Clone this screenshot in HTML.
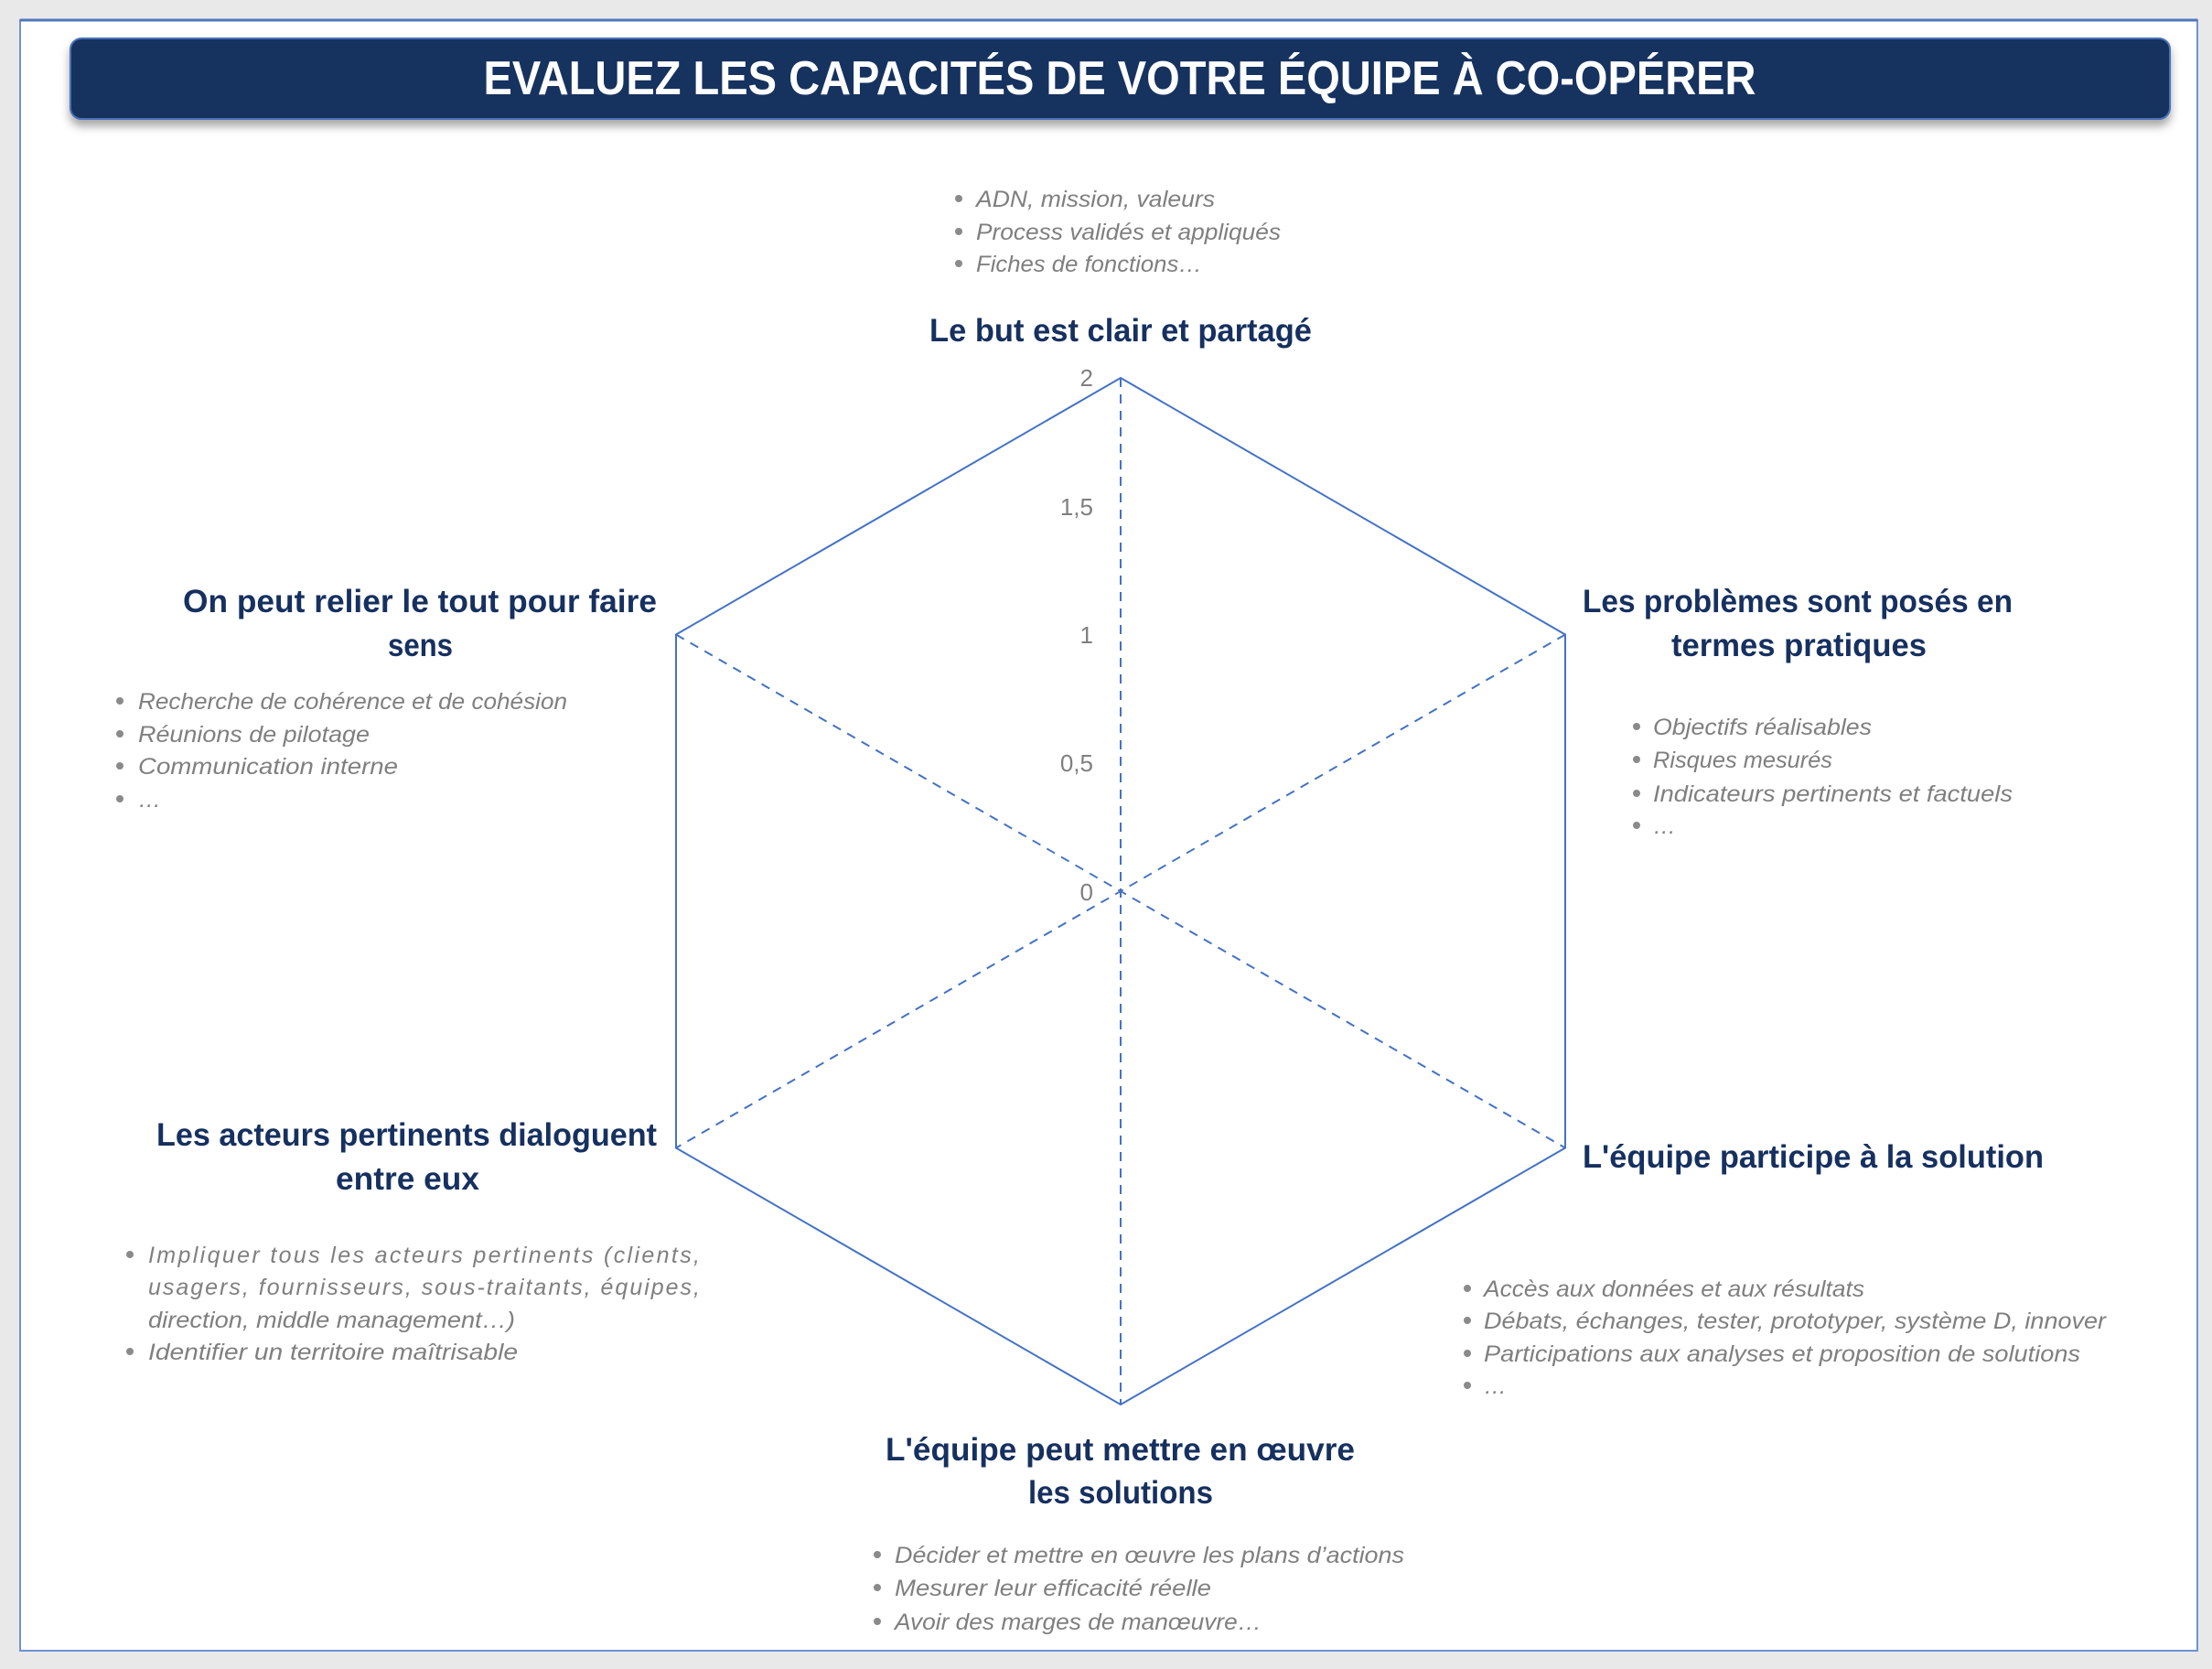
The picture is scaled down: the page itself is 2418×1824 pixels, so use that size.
<!DOCTYPE html>
<html><head><meta charset="utf-8"><style>
html,body{margin:0;padding:0;background:#e9e9e9;}
svg{display:block}
</style></head><body>
<svg width="2418" height="1824" viewBox="0 0 2418 1824" xmlns="http://www.w3.org/2000/svg">
<defs>
<filter id="sh" x="-5%" y="-30%" width="110%" height="170%"><feDropShadow dx="0" dy="7" stdDeviation="5" flood-color="#000" flood-opacity="0.35"/></filter>
</defs>
<rect x="0" y="0" width="2418" height="1824" fill="#e9e9e9"/>
<rect x="22" y="22" width="2380" height="1782" fill="#fff" stroke="#6f93cf" stroke-width="2"/>
<line x1="22" y1="22" x2="2402" y2="22" stroke="#4f77bd" stroke-width="3"/>
<rect x="77" y="42" width="2295" height="88" rx="12" fill="#16305f" stroke="#4a72b8" stroke-width="2" filter="url(#sh)"/>
<text x="1224" y="103" text-anchor="middle" font-family="Liberation Sans, sans-serif" font-weight="bold" font-size="52" fill="#fff" textLength="1391" lengthAdjust="spacingAndGlyphs">EVALUEZ LES CAPACITÉS DE VOTRE ÉQUIPE À CO-OPÉRER</text>

<g stroke="#4472c4" stroke-width="2" fill="none">
<polygon points="1225,413 1711,693.5 1711,1254.5 1225,1535 739,1254.5 739,693.5"/>
<g stroke-dasharray="10,8">
<line x1="1225" y1="413" x2="1225" y2="1535"/>
<line x1="1711" y1="693.5" x2="739" y2="1254.5"/>
<line x1="739" y1="693.5" x2="1711" y2="1254.5"/>
</g>
</g>

<g font-family="Liberation Sans, sans-serif" font-size="26" fill="#7f7f7f" text-anchor="end">
<text x="1195" y="422">2</text>
<text x="1195" y="563">1,5</text>
<text x="1195" y="703">1</text>
<text x="1195" y="843">0,5</text>
<text x="1195" y="984">0</text>
</g>

<g font-family="Liberation Sans, sans-serif" font-weight="bold" font-size="35" fill="#16305f" lengthAdjust="spacingAndGlyphs">
<text x="1016" y="373" textLength="418" lengthAdjust="spacingAndGlyphs">Le but est clair et partagé</text>
<text x="200" y="669" textLength="518" lengthAdjust="spacingAndGlyphs">On peut relier le tout pour faire</text>
<text x="424" y="717" textLength="71" lengthAdjust="spacingAndGlyphs">sens</text>
<text x="1730" y="669" textLength="470" lengthAdjust="spacingAndGlyphs">Les problèmes sont posés en</text>
<text x="1827" y="717" textLength="279" lengthAdjust="spacingAndGlyphs">termes pratiques</text>
<text x="1730" y="1276" textLength="504" lengthAdjust="spacingAndGlyphs">L'équipe participe à la solution</text>
<text x="171" y="1252" textLength="547" lengthAdjust="spacingAndGlyphs">Les acteurs pertinents dialoguent</text>
<text x="367" y="1300" textLength="157" lengthAdjust="spacingAndGlyphs">entre eux</text>
<text x="968" y="1596" textLength="513" lengthAdjust="spacingAndGlyphs">L'équipe peut mettre en œuvre</text>
<text x="1124" y="1643" textLength="202" lengthAdjust="spacingAndGlyphs">les solutions</text>
</g>

<g fill="#8a8a8a">
<circle cx="1048" cy="217" r="4"/><circle cx="1048" cy="253" r="4"/><circle cx="1048" cy="288" r="4"/>
<circle cx="131" cy="766" r="4"/><circle cx="131" cy="802" r="4"/><circle cx="131" cy="837" r="4"/><circle cx="131" cy="873" r="4"/>
<circle cx="1789" cy="794" r="4"/><circle cx="1789" cy="830" r="4"/><circle cx="1789" cy="867" r="4"/><circle cx="1789" cy="902" r="4"/>
<circle cx="1604" cy="1408" r="4"/><circle cx="1604" cy="1443" r="4"/><circle cx="1604" cy="1479" r="4"/><circle cx="1604" cy="1514" r="4"/>
<circle cx="142" cy="1371" r="4"/><circle cx="142" cy="1477" r="4"/>
<circle cx="959" cy="1699" r="4"/><circle cx="959" cy="1735" r="4"/><circle cx="959" cy="1772" r="4"/>
</g>

<g font-family="Liberation Sans, sans-serif" font-style="italic" font-size="25" fill="#7f7f7f">
<text x="1067" y="226" textLength="261" lengthAdjust="spacingAndGlyphs">ADN, mission, valeurs</text>
<text x="1067" y="262" textLength="333" lengthAdjust="spacingAndGlyphs">Process validés et appliqués</text>
<text x="1067" y="297" textLength="247" lengthAdjust="spacingAndGlyphs">Fiches de fonctions…</text>

<text x="151" y="775" textLength="469" lengthAdjust="spacingAndGlyphs">Recherche de cohérence et de cohésion</text>
<text x="151" y="811" textLength="253" lengthAdjust="spacingAndGlyphs">Réunions de pilotage</text>
<text x="151" y="846" textLength="284" lengthAdjust="spacingAndGlyphs">Communication interne</text>
<text x="151" y="882">…</text>

<text x="1807" y="803" textLength="239" lengthAdjust="spacingAndGlyphs">Objectifs réalisables</text>
<text x="1807" y="839" textLength="196" lengthAdjust="spacingAndGlyphs">Risques mesurés</text>
<text x="1807" y="876" textLength="393" lengthAdjust="spacingAndGlyphs">Indicateurs pertinents et factuels</text>
<text x="1807" y="911">…</text>

<text x="1622" y="1417" textLength="416" lengthAdjust="spacingAndGlyphs">Accès aux données et aux résultats</text>
<text x="1622" y="1452" textLength="680" lengthAdjust="spacingAndGlyphs">Débats, échanges, tester, prototyper, système D, innover</text>
<text x="1622" y="1488" textLength="652" lengthAdjust="spacingAndGlyphs">Participations aux analyses et proposition de solutions</text>
<text x="1622" y="1523">…</text>

<text x="162" y="1380" textLength="603" lengthAdjust="spacing">Impliquer tous les acteurs pertinents (clients,</text>
<text x="162" y="1415" textLength="603" lengthAdjust="spacing">usagers, fournisseurs, sous-traitants, équipes,</text>
<text x="162" y="1451" textLength="401" lengthAdjust="spacingAndGlyphs">direction, middle management…)</text>
<text x="162" y="1486" textLength="404" lengthAdjust="spacingAndGlyphs">Identifier un territoire maîtrisable</text>

<text x="978" y="1708" textLength="557" lengthAdjust="spacingAndGlyphs">Décider et mettre en œuvre les plans d’actions</text>
<text x="978" y="1744" textLength="346" lengthAdjust="spacingAndGlyphs">Mesurer leur efficacité réelle</text>
<text x="978" y="1781" textLength="401" lengthAdjust="spacingAndGlyphs">Avoir des marges de manœuvre…</text>
</g>
</svg>
</body></html>
